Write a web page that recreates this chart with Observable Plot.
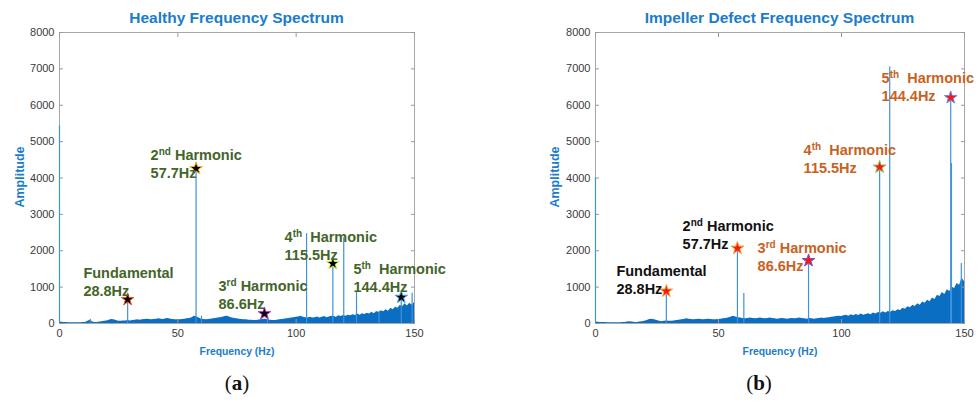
<!DOCTYPE html>
<html>
<head>
<meta charset="utf-8">
<script src="https://cdn.jsdelivr.net/npm/d3@7"></script>
<script src="https://cdn.jsdelivr.net/npm/@observablehq/plot@0.6"></script>
<style>
  body { margin: 0; background: #fff; }
  #root { position: relative; width: 980px; height: 405px; background: #fff; overflow: hidden; font-family: "Liberation Sans", Arial, sans-serif; }
  .panel { position: absolute; top: 0; width: 490px; height: 365px; }
  .title { position: absolute; top: 9px; font-weight: bold; font-size: 15.5px; color: #1a7ccc; transform: translateX(-50%); white-space: nowrap; }
  .xlab { position: absolute; top: 345px; font-weight: bold; font-size: 11.5px; color: #1a7ccc; transform: translateX(-50%) scaleX(0.9); white-space: nowrap; }
  .ylab { position: absolute; top: 177px; font-weight: bold; font-size: 12.5px; color: #1a7ccc; transform: translate(-50%, -50%) rotate(-90deg); white-space: nowrap; }
  .plab { position: absolute; top: 371px; font-family: "Liberation Serif", "DejaVu Serif", serif; font-size: 21px; color: #111; transform: translateX(-50%); }
</style>
</head>
<body>
<div id="root"></div>
<script>
// ---------- data ----------
const xTicks = [0, 50, 100, 150];
const yTicks = [0, 1000, 2000, 3000, 4000, 5000, 6000, 7000, 8000];

// noise floor, one value per 1 Hz bin (0..150 Hz)
const healthyNoise = [
  40, 35, 30, 25, 20, 20, 20, 20, 20, 20, 25,
  30, 60, 90, 40, 30, 30, 40, 50, 60, 70,
  90, 110, 100, 80, 60, 60, 70, 70, 80, 70,
  80, 90, 100, 90, 100, 110, 120, 110, 100, 110,
  120, 130, 120, 110, 130, 140, 120, 110, 100, 100,
  100, 110, 120, 130, 140, 160, 200, 180, 150, 120,
  110, 100, 110, 120, 130, 140, 150, 160, 170, 190,
  200, 170, 150, 140, 130, 120, 110, 100, 100, 90,
  90, 80, 80, 90, 100, 110, 120, 100, 90, 80,
  80, 90, 100, 110, 120, 130, 140, 150, 160, 170,
  180, 200, 170, 160, 150, 170, 150, 160, 180, 150,
  170, 190, 160, 180, 200, 190, 170, 210, 190, 220,
  200, 230, 210, 240, 220, 260, 230, 270, 250, 280,
  260, 310, 270, 330, 300, 350, 320, 380, 340, 420,
  380, 450, 420, 500, 460, 540, 480, 560, 500, 580
];
const defectNoise = [
  40, 35, 30, 25, 25, 20, 20, 20, 20, 20, 20,
  25, 30, 40, 50, 40, 30, 30, 40, 50, 60,
  80, 110, 120, 100, 80, 60, 50, 60, 70, 60,
  60, 70, 80, 90, 100, 110, 130, 120, 110, 100,
  110, 120, 110, 100, 110, 120, 110, 100, 100, 110,
  120, 130, 140, 150, 170, 200, 180, 160, 150, 140,
  130, 140, 150, 140, 130, 140, 150, 140, 130, 140,
  150, 140, 130, 120, 130, 140, 130, 120, 130, 140,
  130, 140, 150, 140, 130, 120, 140, 130, 120, 130,
  140, 150, 140, 150, 160, 170, 180, 190, 200, 190,
  210, 230, 200, 240, 210, 250, 220, 260, 230, 250,
  270, 240, 290, 260, 300, 280, 320, 290, 330, 310,
  350, 330, 380, 360, 420, 390, 460, 430, 500, 470,
  540, 500, 590, 560, 640, 600, 700, 660, 780, 740,
  850, 800, 930, 880, 1000, 960, 1100, 1050, 1250, 1150
];

// discrete spectral lines (Hz, amplitude)
const healthyPeakFreq = [0, 13, 28.8, 57.7, 60, 87.9, 104.4, 115.5, 120.1, 125.5, 135, 144.4, 149];
const healthyPeakAmp  = [5440, 120, 650, 4230, 200, 220, 2470, 1650, 2360, 860, 320, 700, 830];
const defectPeakFreq  = [0, 28.8, 57.7, 60.3, 86.6, 115.5, 119.6, 144.4, 144.7, 148.7];
const defectPeakAmp   = [4000, 880, 2050, 825, 1720, 4280, 7050, 6180, 4400, 1650];

// harmonic markers
const starFreq = [28.8, 57.7, 86.6, 115.5, 144.4];
const healthyStarAmp = [660, 4260, 270, 1650, 720];
const defectStarAmp  = [890, 2070, 1730, 4300, 6210];
const healthyStarStroke = ["#ff5a1e", "#f5b42a", "#c040d0", "#d8ec40", "#4fb0f0"];
const defectStarStroke  = ["#f5b030", "#f5a030", "#7a50d0", "#90c858", "#7088e8"];

// annotation labels
const healthyLabelText = ["Fundamental\n28.8Hz", "2nd Harmonic\n57.7Hz", "3rd Harmonic\n86.6Hz", "4th  Harmonic\n115.5Hz", "5th  Harmonic\n144.4Hz"];
const healthyLabelFreq = [10.1, 38.5, 67.2, 95.1, 124.2];
const healthyLabelAmp  = [1600, 4830, 1240, 2580, 1700];
const defectLabelText  = ["Fundamental\n28.8Hz", "2nd Harmonic\n57.7Hz", "3rd Harmonic\n86.6Hz", "4th  Harmonic\n115.5Hz", "5th  Harmonic\n144.4Hz"];
const defectLabelFreq  = [8.5, 35.4, 65.9, 84.6, 116.3];
const defectLabelAmp   = [1650, 2880, 2280, 4970, 6950];
const defectLabelFill  = ["#111111", "#111111", "#c8621e", "#c8621e", "#c8621e"];

const titles = ["Healthy Frequency Spectrum", "Impeller Defect Frequency Spectrum"];
const panelTags = ["a", "b"];

// ---------- drawing ----------
function panel(o) {
  const peaks = o.peakF.map((f, i) => ({f, a: o.peakA[i]}));
  const stars = starFreq.map((f, i) => ({f, a: o.starA[i], s: o.starStroke[i]}));
  const labels = o.labT.map((t, i) => ({t, f: o.labF[i], a: o.labA[i], c: o.labFill[i]}));
  const axisStyle = {tickSize: -4, stroke: "#9a9a9a", fill: "#3a3a3a", fontSize: 11, label: null};
  const svg = Plot.plot({
    width: 490, height: 365,
    marginLeft: o.marginLeft, marginRight: o.marginRight, marginTop: 32, marginBottom: 42,
    x: {domain: [0, 150]},
    y: {domain: [0, 8000]},
    style: {fontFamily: "'Liberation Sans', Arial, sans-serif", background: "transparent", overflow: "visible"},
    marks: [
      Plot.areaY(o.noise, {x: (d, i) => i, y: d => d, fill: "#0a6ec2"}),
      Plot.frame({stroke: "#a8a8a8"}),
      Plot.axisX({...axisStyle, anchor: "bottom", ticks: xTicks, tickPadding: 10}),
      Plot.axisX({...axisStyle, anchor: "top", ticks: xTicks, tickFormat: () => ""}),
      Plot.axisY({...axisStyle, anchor: "left", ticks: yTicks, tickPadding: 9, tickFormat: d => String(d)}),
      Plot.axisY({...axisStyle, anchor: "right", ticks: yTicks, tickFormat: () => ""}),
      Plot.ruleX(peaks, {x: "f", y1: 0, y2: "a", stroke: "#3f92dc", strokeWidth: 1.2}),
      Plot.dot(stars, {x: "f", y: "a", symbol: "star", r: 4, fill: o.starFill, stroke: "s", strokeWidth: 1}),
      Plot.text(labels, {x: "f", y: "a", text: "t", fill: "c", textAnchor: "start", lineAnchor: "top",
        lineHeight: 1.22, fontSize: 14.5, fontWeight: "bold", stroke: null})
    ]
  });
  // superscript ordinals, preserve double spaces
  svg.querySelectorAll("text").forEach(t => t.setAttribute("style", "white-space:pre"));
  svg.querySelectorAll("tspan").forEach(ts => {
    const m = ts.textContent.match(/^(\d)(st|nd|rd|th)(\s+.*)$/);
    if (m) {
      ts.textContent = "";
      ts.appendChild(document.createTextNode(m[1]));
      const sup = document.createElementNS("http://www.w3.org/2000/svg", "tspan");
      sup.setAttribute("font-size", "10");
      sup.setAttribute("dy", "-5");
      sup.textContent = m[2];
      const rest = document.createElementNS("http://www.w3.org/2000/svg", "tspan");
      rest.setAttribute("dy", "5");
      rest.textContent = m[3];
      ts.appendChild(sup);
      ts.appendChild(rest);
    }
  });
  return svg;
}

const root = document.getElementById("root");
const configs = [
  {left: 0, noise: healthyNoise, peakF: healthyPeakFreq, peakA: healthyPeakAmp, starA: healthyStarAmp,
   starStroke: healthyStarStroke, starFill: "#000", labT: healthyLabelText, labF: healthyLabelFreq,
   labA: healthyLabelAmp, labFill: healthyLabelText.map(() => "#44652a"), marginLeft: 59, marginRight: 76,
   ylabX: 20},
  {left: 490, noise: defectNoise, peakF: defectPeakFreq, peakA: defectPeakAmp, starA: defectStarAmp,
   starStroke: defectStarStroke, starFill: "#ff1414", labT: defectLabelText, labF: defectLabelFreq,
   labA: defectLabelAmp, labFill: defectLabelFill, marginLeft: 105, marginRight: 16,
   ylabX: 555}
];
configs.forEach((c, k) => {
  const div = document.createElement("div");
  div.className = "panel";
  div.style.left = c.left + "px";
  div.appendChild(panel(c));
  root.appendChild(div);
  const cx = c.left + c.marginLeft + (490 - c.marginLeft - c.marginRight) / 2;
  const t = document.createElement("div");
  t.className = "title"; t.style.left = cx + "px"; t.textContent = titles[k];
  root.appendChild(t);
  const xl = document.createElement("div");
  xl.className = "xlab"; xl.style.left = cx + "px"; xl.textContent = "Frequency (Hz)";
  root.appendChild(xl);
  const yl = document.createElement("div");
  yl.className = "ylab"; yl.style.left = c.ylabX + "px"; yl.textContent = "Amplitude";
  root.appendChild(yl);
  const pl = document.createElement("div");
  pl.className = "plab"; pl.style.left = (c.left === 0 ? 237 : 759) + "px";
  pl.innerHTML = "(<b>" + panelTags[k] + "</b>)";
  root.appendChild(pl);
});
</script>
</body>
</html>
